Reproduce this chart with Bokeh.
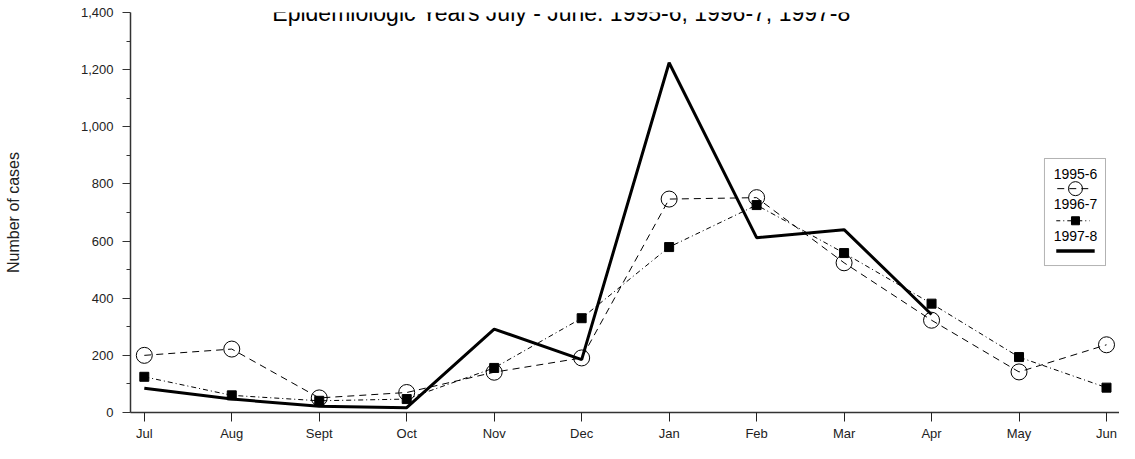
from bokeh.plotting import figure
from bokeh.models import (FixedTicker, NumeralTickFormatter, Label,
                          BoxAnnotation, Range1d)
from bokeh.embed import file_html
from bokeh.resources import INLINE

# ---- data -------------------------------------------------------------
months = ["Jul", "Aug", "Sept", "Oct", "Nov", "Dec", "Jan", "Feb", "Mar", "Apr", "May", "Jun"]
cases_1995_6 = [200, 222, 51, 70, 141, 191, 747, 752, 524, 323, 142, 237]
cases_1996_7 = [125, 60, 41, 47, 156, 330, 579, 726, 558, 381, 194, 87]
cases_1997_8 = [85, 47, 22, 17, 292, 185, 1224, 612, 640, 343]
series_names = ["1995-6", "1996-7", "1997-8"]
y_ticks = [0, 200, 400, 600, 800, 1000, 1200, 1400]
y_minor = [100, 300, 500, 700, 900, 1100, 1300]
title_text = "Epidemiologic Years July - June. 1995-6, 1996-7, 1997-8"
y_label = "Number of cases"

FONT = "Liberation Sans"

W, H = 1119, 443
FL, FT, FB = 130, 12, 28          # frame borders (figure px)
JUL_PX, JUN_PX = 143.8, 1106.0
PPX = (JUN_PX - JUL_PX) / 11.0
X0 = -(JUL_PX - FL) / PPX
X1 = 11 + (W - JUN_PX) / PPX
PPY = (H - FT - FB) / 1400.0

p = figure(width=W, height=H, output_backend="svg", toolbar_location=None,
           x_range=Range1d(X0, X1), y_range=Range1d(0, 1400),
           min_border_left=FL, min_border_right=0, min_border_top=FT,
           min_border_bottom=FB)
p.outline_line_color = None
p.grid.visible = False

# axes
xa = p.xaxis[0]
xa.ticker = FixedTicker(ticks=list(range(len(months))))
xa.major_label_overrides = {i: m for i, m in enumerate(months)}
xa.major_tick_out = 9
xa.major_tick_in = 0
xa.minor_tick_out = 0
xa.major_label_standoff = 4
xa.major_label_text_font = FONT
xa.major_label_text_font_size = "13px"
xa.major_label_text_color = "#222222"
xa.axis_line_color = "#333333"
xa.axis_line_width = 1.5
xa.major_tick_line_color = "#222222"

ya = p.yaxis[0]
ya.ticker = FixedTicker(ticks=y_ticks, minor_ticks=y_minor)
ya.formatter = NumeralTickFormatter(format="0,0")
ya.major_tick_out = 8
ya.major_tick_in = 0
ya.minor_tick_out = 4
ya.minor_tick_in = 0
ya.major_label_standoff = 9
ya.major_label_text_font = FONT
ya.major_label_text_font_size = "13px"
ya.major_label_text_color = "#222222"
ya.axis_line_color = "#333333"
ya.axis_line_width = 1.5
ya.major_tick_line_color = "#333333"
ya.minor_tick_line_color = "#333333"
ya.axis_label = y_label
ya.axis_label_text_font = FONT
ya.axis_label_text_font_size = "16px"
ya.axis_label_text_font_style = "normal"
ya.axis_label_text_color = "#222222"
ya.axis_label_standoff = 56

xs = list(range(len(months)))

# 1995-6 : dashed with open circles
p.line(xs, cases_1995_6, line_color="black", line_width=1, line_dash="7 5")
p.scatter(xs, cases_1995_6, marker="circle", size=16, fill_color=None,
          line_color="black", line_width=1)
# 1996-7 : dash-dot with filled squares
p.line(xs, cases_1996_7, line_color="black", line_width=1, line_dash="5 3 1 3")
p.scatter(xs, cases_1996_7, marker="square", size=9, fill_color="black",
          line_color="black")
# 1997-8 : thick solid
p.line(xs[:len(cases_1997_8)], cases_1997_8, line_color="black", line_width=3)

# ---- legend placement helpers (reference px -> figure px -> data) -----
KX = (JUN_PX - FL) / (1121 - 130)
KY = (H - FB - FT) / (423 - 12)
def fx(x):
    return FL + (x - 130) * KX
def fy(y):
    return FT + (y - 12) * KY
def dx(x):
    return X0 + (fx(x) - FL) / PPX
def dy(y):
    return (H - FB - fy(y)) / PPY

box = BoxAnnotation(left=dx(1058), right=dx(1120), top=dy(162), bottom=dy(272),
                    fill_color="white", fill_alpha=1, line_color="black",
                    line_width=1, level="underlay")
p.add_layout(box)
cx = dx(1089.5)
for name, py in zip(series_names, [178, 209, 242]):
    p.add_layout(Label(x=cx, y=dy(py), text=name, text_align="center",
                       text_baseline="middle", text_font=FONT,
                       text_font_size="14px", text_color="black"))
p.line([dx(1071), dx(1106)], [dy(193), dy(193)], line_color="black", line_width=1, line_dash="7 5")
p.scatter([cx], [dy(193)], marker="circle", size=14, fill_color=None, line_color="black")
p.line([dx(1070), dx(1104)], [dy(226), dy(226)], line_color="black", line_width=1, line_dash="4 3 1 3")
p.scatter([cx], [dy(226)], marker="square", size=8, fill_color="black", line_color="black")
p.line([dx(1070), dx(1109)], [dy(257), dy(257)], line_color="black", line_width=3.5)

# title (cut at top as in reference)
title_x = X0 + (561 - FL) / PPX
p.add_layout(Label(x=title_x, y=dy(13), text=title_text, text_align="center",
                   text_baseline="alphabetic", text_font=FONT,
                   text_font_size="23px", text_color="black"))

open("out.html", "w").write(file_html(p, INLINE))
